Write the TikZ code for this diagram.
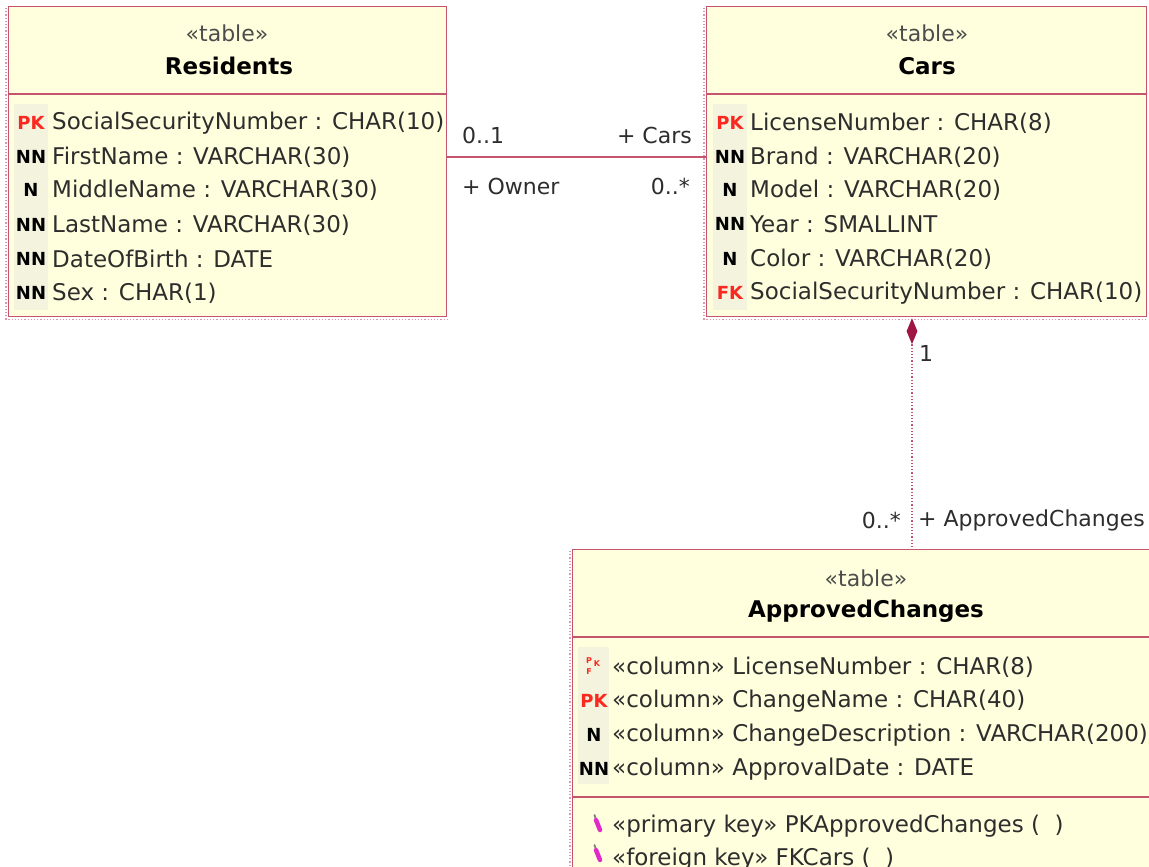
\documentclass[tikz,border=0pt]{standalone}
\usepackage{fontspec}
\setmainfont{DejaVu Sans}
\usetikzlibrary{arrows.meta,shapes.geometric,positioning,calc}
\definecolor{umlfill}{RGB}{255,255,221}
\definecolor{umlline}{RGB}{196,84,112}
\definecolor{keyred}{RGB}{250,40,30}
\definecolor{keycol}{RGB}{243,243,222}
\definecolor{txtgray}{RGB}{45,45,45}
\definecolor{diared}{RGB}{158,22,70}
\definecolor{penpink}{RGB}{225,40,200}

\begin{document}
\begin{tikzpicture}[x=1pt, y=-1pt,
    tbl/.style={rectangle, draw=umlline, fill=umlfill, line width=1.2pt, inner sep=0pt, anchor=north west},
    sel/.style={draw=umlline!60, dotted, line width=1.2pt},
    sep/.style={draw=umlline, line width=1.5pt},
    stereo/.style={inner sep=0pt, font=\fontsize{22}{24}\selectfont, text=txtgray!85},
    tname/.style={inner sep=0pt, font=\fontsize{23}{25}\selectfont\bfseries, text=black},
    col/.style={anchor=west, inner sep=0pt, font=\fontsize{23}{25}\selectfont, text=txtgray},
    key/.style={inner sep=0pt, font=\fontsize{18}{20}\selectfont\bfseries, text=black},
    pkey/.style={key, text=keyred},
    tinykey/.style={inner sep=0pt, text=keyred, font=\fontsize{8}{8}\selectfont\bfseries},
    role/.style={inner sep=0pt, font=\fontsize{22}{24}\selectfont, text=txtgray},
    assoc/.style={draw=umlline, line width=1.2pt},
    compline/.style={draw=umlline, dotted, line width=1.2pt},
]
\clip (0,0) rectangle (1149,867);

% tables
\node[tbl, minimum width=438pt, minimum height=310pt] (res) at (8,6) {};
\node[tbl, minimum width=440pt, minimum height=310pt] (cars) at (706,6) {};
\node[tbl, minimum width=588pt, minimum height=340pt] (appr) at (572,549) {};

\draw[sel] ($(res.north west)+(-2,2)$) |- ($(res.south east)+(0,2)$);
\draw[sel] ($(cars.north west)+(-2,2)$) |- ($(cars.south east)+(0,2)$);
\draw[sel] ($(appr.north west)+(-2,2)$) -- ($(appr.south west)+(-2,0)$);

\draw[sep] ($(res.north west)+(0,88)$) -- ($(res.north east)+(0,88)$);
\draw[sep] ($(cars.north west)+(0,88)$) -- ($(cars.north east)+(0,88)$);
\draw[sep] ($(appr.north west)+(0,88)$) -- ($(appr.north east)+(0,88)$);
\draw[sep] ($(appr.north west)+(0,248)$) -- ($(appr.north east)+(0,248)$);

% key columns
\fill[keycol] (14,104) rectangle (48,310);
\fill[keycol] (713,104) rectangle (747,310);
\fill[keycol] (578,647) rectangle (609,784);

% titles
\node[stereo] (resst) at (227,33) {«table»};
\node[tname] (restt) at (229,66) {Residents};
\node[stereo] (carsst) at (927,33) {«table»};
\node[tname] (carstt) at (927,66) {Cars};
\node[stereo] (apprst) at (866,578) {«table»};
\node[tname] (apprtt) at (866,611) {ApprovedChanges};

% Residents columns
\node[pkey] (resk1) at (31,123) {PK};
\node[col] (resc1) at (52,123) {SocialSecurityNumber : CHAR(10)};
\node[key] (resk2) at (31,157) {NN};
\node[col] (resc2) at (52,157) {FirstName : VARCHAR(30)};
\node[key] (resk3) at (31,190) {N};
\node[col] (resc3) at (52,190) {MiddleName : VARCHAR(30)};
\node[key] (resk4) at (31,225) {NN};
\node[col] (resc4) at (52,225) {LastName : VARCHAR(30)};
\node[key] (resk5) at (31,259) {NN};
\node[col] (resc5) at (52,259) {DateOfBirth : DATE};
\node[key] (resk6) at (31,293) {NN};
\node[col] (resc6) at (52,293) {Sex : CHAR(1)};

% Cars columns
\node[pkey] (carsk1) at (730,123) {PK};
\node[col] (carsc1) at (750,123) {LicenseNumber : CHAR(8)};
\node[key] (carsk2) at (730,157) {NN};
\node[col] (carsc2) at (750,157) {Brand : VARCHAR(20)};
\node[key] (carsk3) at (730,190) {N};
\node[col] (carsc3) at (750,190) {Model : VARCHAR(20)};
\node[key] (carsk4) at (730,224) {NN};
\node[col] (carsc4) at (750,224) {Year : SMALLINT};
\node[key] (carsk5) at (730,259) {N};
\node[col] (carsc5) at (750,259) {Color : VARCHAR(20)};
\node[pkey] (carsk6) at (730,293) {FK};
\node[col] (carsc6) at (750,293) {SocialSecurityNumber : CHAR(10)};

% ApprovedChanges columns
\node[tinykey] (apprk1p) at (589,661) {P};
\node[tinykey] (apprk1f) at (589,672) {F};
\node[tinykey] (apprk1k) at (597,664) {K};
\node[col] (apprc1) at (612,667) {«column» LicenseNumber : CHAR(8)};
\node[pkey] (apprk2) at (594,701) {PK};
\node[col] (apprc2) at (612,701) {«column» ChangeName : CHAR(40)};
\node[key] (apprk3) at (594,735) {N};
\node[col] (apprc3) at (612,735) {«column» ChangeDescription : VARCHAR(200)};
\node[key] (apprk4) at (594,769) {NN};
\node[col] (apprc4) at (612,769) {«column» ApprovalDate : DATE};

% operations
\draw[penpink, line width=4.5pt, line cap=round] (596,820) -- (600,830);
\draw[gray, line width=1.8pt, line cap=round] (594.5,815) -- (595.5,818);
\node[col] (approp1) at (612,826) {«primary key» PKApprovedChanges (\ \ )};
\draw[penpink, line width=4.5pt, line cap=round] (596,850) -- (600,860);
\draw[gray, line width=1.8pt, line cap=round] (594.5,845) -- (595.5,848);
\node[col] (approp2) at (612,859) {«foreign key» FKCars (\ \ )};

% association Residents -- Cars
\draw[assoc] (resc2.west -| res.east) -- (carsc2.west -| cars.west);
\node[role, anchor=west] (mulres) at (462,135) {0..1};
\node[role, anchor=east] (rolecars) at (692,135) {+ Cars};
\node[role, anchor=west] (roleowner) at (462,186) {+ Owner};
\node[role, anchor=east] (mulcars) at (690,186) {0..*};

% composition Cars -- ApprovedChanges
\coordinate (comptop) at (912,318);
\node[diamond, fill=diared, inner sep=0pt, minimum width=11pt, minimum height=26pt, anchor=north] (compdia) at (comptop) {};
\draw[compline] (compdia.south) -- (compdia.south |- appr.north);
\node[role, anchor=west] (mulone) at (919,353) {1};
\node[role, anchor=east] (mulmany) at (901,520) {0..*};
\node[role, anchor=west] (roleappr) at (918,520) {+ ApprovedChanges};
\end{tikzpicture}
\end{document}
